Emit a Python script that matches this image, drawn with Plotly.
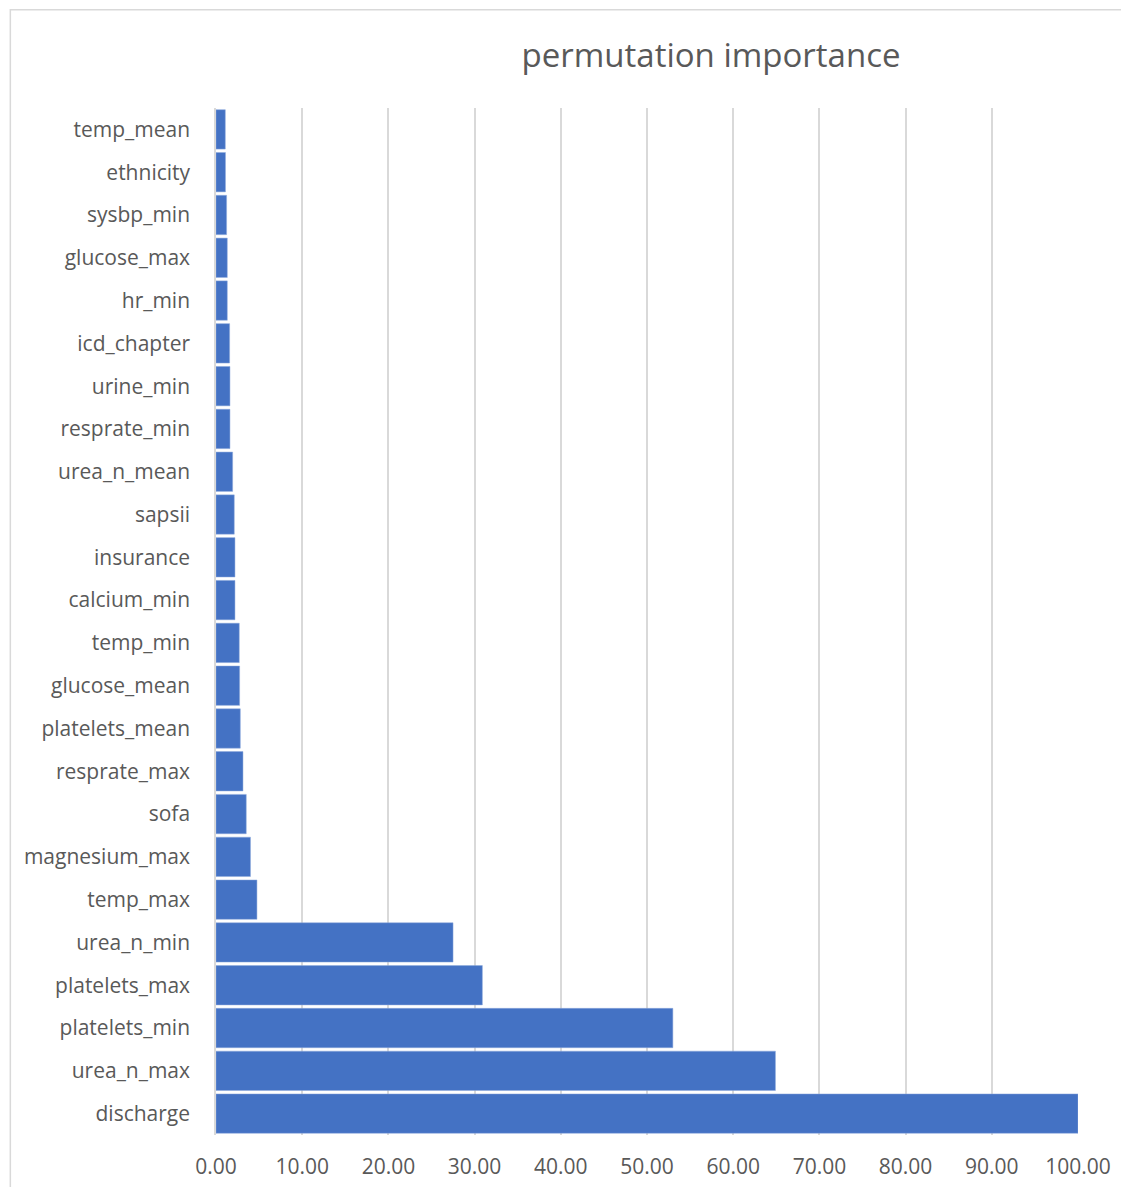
import plotly.graph_objects as go

features = [
    "temp_mean", "ethnicity", "sysbp_min", "glucose_max", "hr_min", "icd_chapter",
    "urine_min", "resprate_min", "urea_n_mean", "sapsii", "insurance", "calcium_min",
    "temp_min", "glucose_mean", "platelets_mean", "resprate_max", "sofa",
    "magnesium_max", "temp_max", "urea_n_min", "platelets_max", "platelets_min",
    "urea_n_max", "discharge",
]
importance = [
    1.08, 1.10, 1.23, 1.31, 1.31, 1.58,
    1.62, 1.62, 1.93, 2.12, 2.20, 2.20,
    2.70, 2.74, 2.82, 3.13, 3.51,
    4.00, 4.75, 27.5, 30.9, 53.0,
    64.9, 100.0,
]
x_ticks = [0, 10, 20, 30, 40, 50, 60, 70, 80, 90, 100]

font_family = "Open Sans, Noto Sans, sans-serif"
grey = "#595959"

fig = go.Figure(
    go.Bar(
        x=importance,
        y=features,
        orientation="h",
        marker=dict(color="#4472c4", line=dict(color="#8faadc", width=0.5)),
    )
)

# light frame around the whole chart, like the Excel chart area
fig.add_shape(
    type="rect", xref="paper", yref="paper",
    x0=-0.2386, x1=1.07, y0=-0.07, y1=1.0956,
    line=dict(color="#d9d9d9", width=1.5), fillcolor="rgba(0,0,0,0)",
)

fig.update_layout(
    width=1129,
    height=1187,
    margin=dict(l=208, r=59, t=100, b=60),
    paper_bgcolor="white",
    plot_bgcolor="white",
    bargap=0.08,
    showlegend=False,
    font=dict(family=font_family, size=21, color=grey),
    title=dict(
        text="permutation importance",
        x=0.6227, xanchor="center", y=0.9604, yanchor="middle",
        font=dict(family=font_family, size=33, color=grey),
    ),
    xaxis=dict(
        range=[0, 100],
        tickvals=x_ticks,
        tickformat=".2f",
        showgrid=True,
        gridcolor="#d9d9d9",
        gridwidth=1.5,
        zeroline=False,
        showline=False,
        ticklabelstandoff=17,
        tickfont=dict(size=21, color=grey),
    ),
    yaxis=dict(
        autorange="reversed",
        showgrid=False,
        showline=True,
        linecolor="#d9d9d9",
        linewidth=1.5,
        ticklabelstandoff=20,
        tickfont=dict(size=21, color=grey),
    ),
)

fig.write_html("out.html")
